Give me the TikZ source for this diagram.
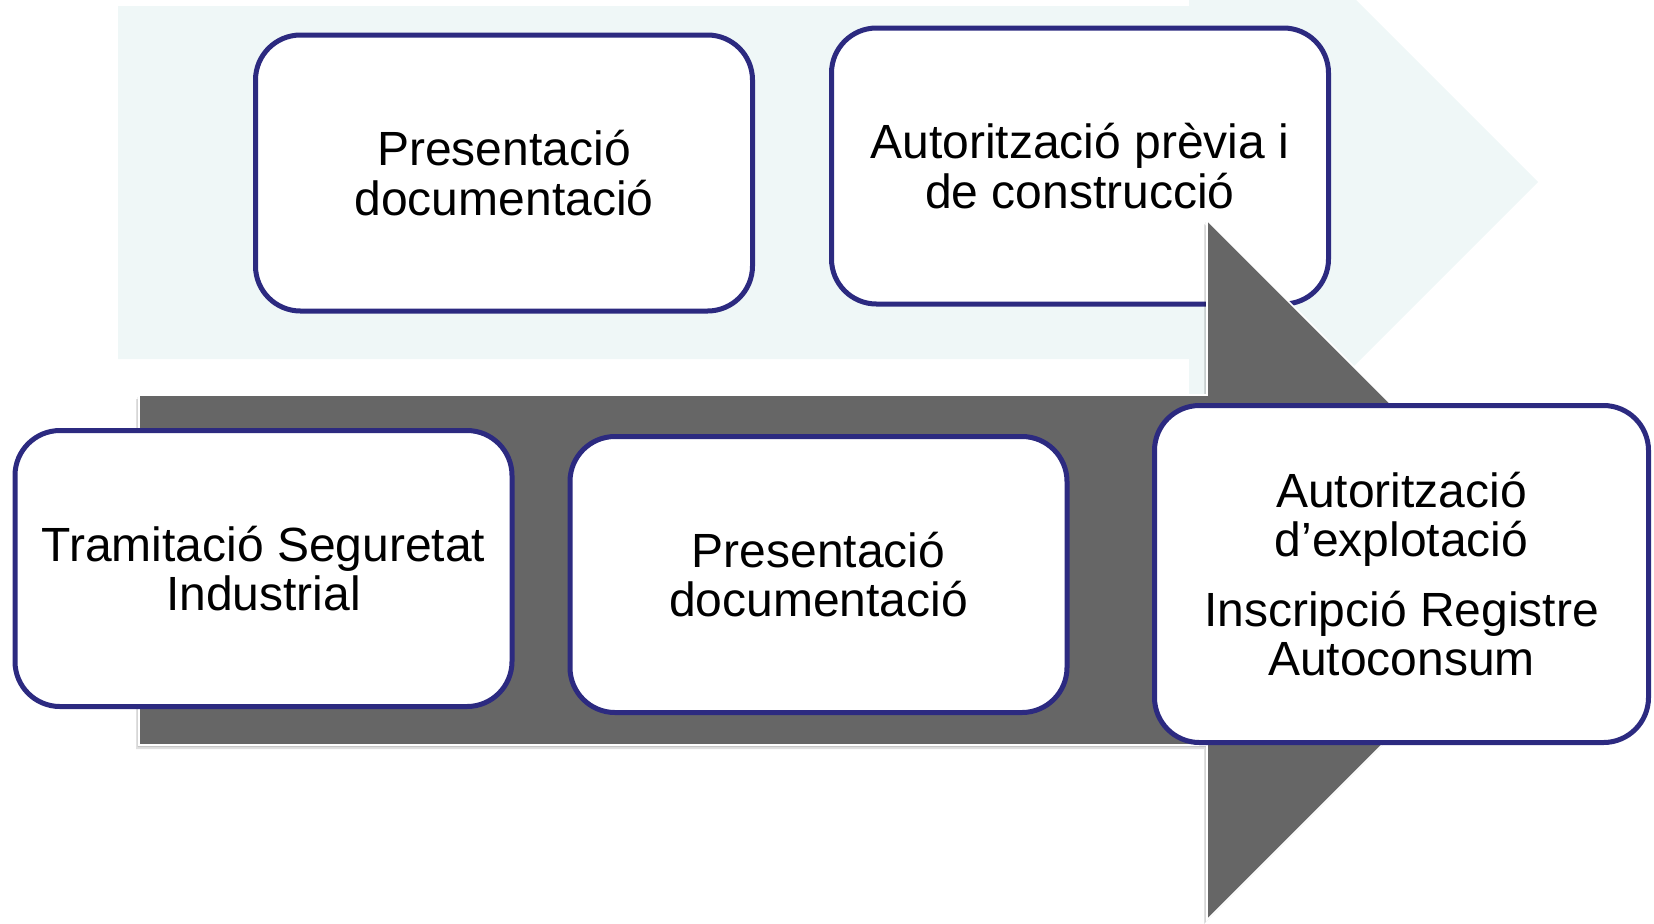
\documentclass[tikz,border=0pt]{standalone}
\usepackage{fontspec}
\setmainfont{Liberation Sans}
\definecolor{lightarrow}{RGB}{239,247,247}
\definecolor{darkarrow}{RGB}{102,102,102}
\definecolor{navy}{RGB}{44,42,128}
\begin{document}
\begin{tikzpicture}[x=0.5pt,y=-0.5pt,
  stepbox/.style={draw=navy, line width=2.5pt, fill=white, rounded corners=22.5pt,
    align=center, inner sep=0pt, font=\fontsize{24pt}{24.8pt}\selectfont,
    minimum width=248.5pt, minimum height=138pt},
  bigbox/.style={stepbox, minimum width=247pt, minimum height=168.5pt},
  lightshape/.style={fill=lightarrow},
  darkshape/.style={fill=darkarrow, draw=white, line width=0.8pt, line join=miter},
  shadowshape/.style={fill=black, opacity=0.12}]
\useasboundingbox (0,0) rectangle (1654,923);
% light (upper) arrow
\begin{scope}
\clip (0,0) rectangle (1654,923);
\fill[lightshape] (118,6) -- (1189,6) -- (1189,-167) -- (1538,182) -- (1189,531)
  -- (1189,359) -- (118,359) -- cycle;
\end{scope}
% upper boxes (under the dark arrow)
\node[stepbox] (b1) at (504,173) {Presentació\\documentació};
\node[stepbox] (b2) at (1080,166) {Autorització prèvia i\\de construcció};
% dark (lower) arrow with soft shadow
\fill[shadowshape] (136,399) -- (1204,399) -- (1204,224) -- (1554,574) -- (1204,924)
  -- (1204,749) -- (136,749) -- cycle;
\fill[shadowshape] (137.5,397) -- (1205.5,397) -- (1205.5,222) -- (1555.5,572) -- (1205.5,922)
  -- (1205.5,747) -- (137.5,747) -- cycle;
\filldraw[darkshape] (139,395) -- (1207,395) -- (1207,220) -- (1557,570) -- (1207,920)
  -- (1207,745) -- (139,745) -- cycle;
% lower boxes
\node[stepbox] (b3) at (263.5,568.5) {Tramitació Seguretat\\Industrial};
\node[stepbox] (b4) at (818.5,574.5) {Presentació\\documentació};
\node[bigbox] (b5) at (1401.5,574) {Autorització\\d’explotació\\[10pt]Inscripció Registre\\Autoconsum};
\end{tikzpicture}
\end{document}
